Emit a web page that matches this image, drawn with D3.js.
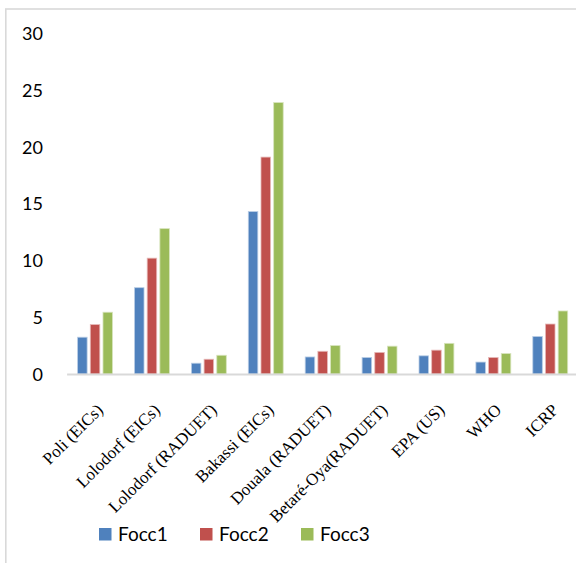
<!DOCTYPE html>
<html>
<head>
<meta charset="utf-8">
<script src="https://cdn.jsdelivr.net/npm/d3@7"></script>
<style>
  html, body { margin: 0; padding: 0; background: #fff; }
  svg { display: block; }
</style>
</head>
<body>
<svg id="chart" width="576" height="563"></svg>
<script>
// Categories (sites and reference standards)
const categories = [
  "Poli (EICs)", "Lolodorf (EICs)", "Lolodorf (RADUET)", "Bakassi (EICs)",
  "Douala (RADUET)", "Betaré-Oya(RADUET)", "EPA (US)", "WHO", "ICRP"
];
const seriesNames = ["Focc1", "Focc2", "Focc3"];
const focc1 = [3.24, 7.6, 0.95, 14.3, 1.5, 1.45, 1.6, 1.05, 3.3];
const focc2 = [4.35, 10.2, 1.3, 19.1, 2.0, 1.9, 2.1, 1.45, 4.4];
const focc3 = [5.44, 12.8, 1.65, 23.9, 2.5, 2.45, 2.7, 1.8, 5.55];
const yTicks = [0, 5, 10, 15, 20, 25, 30];
const colors = ["#4f81bd", "#c0504d", "#9bbb59"];
const strokes = ["#b9cde5", "#e6b9b8", "#d7e4bd"];

const seriesValues = [focc1, focc2, focc3];

const svg = d3.select("#chart");

// Outer frame
svg.append("rect")
  .attr("x", 5.8).attr("y", 9)
  .attr("width", 700).attr("height", 700)
  .attr("fill", "none")
  .attr("stroke", "#d9d9d9")
  .attr("stroke-width", 1.6);

const y = d3.scaleLinear().domain([0, 30]).range([374, 33.3]);
const x = d3.scaleBand().domain(categories).range([66.6, 578.7]).padding(0);
const xs = d3.scaleBand().domain(seriesNames)
  .range([11, x.bandwidth() - 11]).paddingInner(0.25);

// Y tick labels
const yAxis = d3.axisLeft(y).tickValues(yTicks).tickSize(0).tickPadding(0);
const yg = svg.append("g").attr("transform", "translate(43,0)").call(yAxis);
yg.select(".domain").remove();
yg.selectAll("text")
  .attr("font-family", "Lato, 'Open Sans', sans-serif")
  .attr("font-size", 18)
  .attr("fill", "#000")
  .attr("dy", "0.35em");

// Bars
seriesNames.forEach((name, s) => {
  svg.append("g").selectAll("rect")
    .data(categories.map((c, i) => ({ c, v: seriesValues[s][i] })))
    .join("rect")
    .attr("x", d => x(d.c) + xs(name))
    .attr("y", d => y(d.v))
    .attr("width", xs.bandwidth())
    .attr("height", d => y(0) - y(d.v))
    .attr("fill", colors[s])
    .attr("stroke", strokes[s])
    .attr("stroke-width", 0.8);
});

// X axis line and rotated category labels
const xAxis = d3.axisBottom(x).tickSize(0).tickPadding(0);
const xg = svg.append("g").attr("transform", `translate(0,${y(0)})`).call(xAxis);
xg.select(".domain")
  .attr("stroke", "#d9d9d9")
  .attr("stroke-width", 2.2);
xg.selectAll(".tick text")
  .attr("font-family", "'Liberation Serif', 'Times New Roman', serif")
  .attr("font-size", 17)
  .attr("fill", "#000")
  .attr("text-anchor", "end")
  .attr("dy", null)
  .attr("y", 0)
  .attr("transform", "translate(9,37) rotate(-45)");

// Legend
const legend = svg.append("g");
const legendX = [99, 200, 301];
seriesNames.forEach((name, s) => {
  const g = legend.append("g").attr("transform", `translate(${legendX[s]},528)`);
  g.append("rect").attr("width", 12.5).attr("height", 12.5).attr("fill", colors[s]);
  g.append("text")
    .attr("x", 19).attr("y", 12.8)
    .attr("font-family", "Lato, 'Open Sans', sans-serif")
    .attr("font-size", 19)
    .attr("fill", "#000")
    .text(name);
});
</script>
</body>
</html>
